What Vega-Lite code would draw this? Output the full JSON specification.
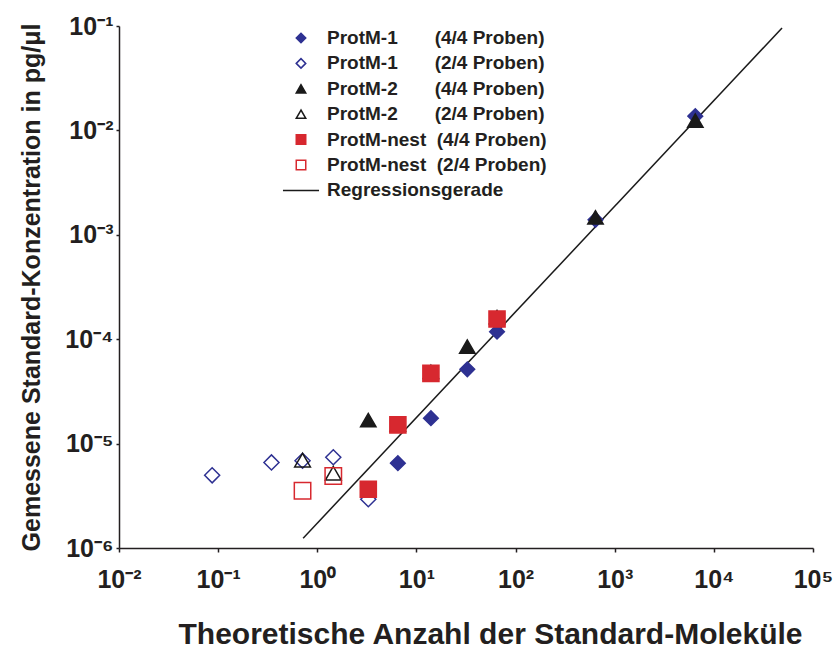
{
  "$schema": "https://vega.github.io/schema/vega-lite/v6.json",
  "width": 694,
  "height": 522,
  "autosize": {"type": "none"},
  "padding": {"left": 119, "top": 26, "right": 21, "bottom": 107},
  "background": "white",
  "config": {
    "view": {"stroke": null},
    "font": "Liberation Sans",
    "axis": {
      "grid": false,
      "domainColor": "#231f20",
      "domainWidth": 1.5,
      "tickColor": "#231f20",
      "tickWidth": 1.5,
      "labelFont": "Liberation Sans",
      "labelFontWeight": "bold",
      "labelFontSize": 25,
      "labelColor": "#231f20",
      "labelFlush": false,
      "labelOverlap": false,
      "titleFont": "Liberation Sans",
      "titleFontWeight": "bold",
      "titleColor": "#231f20"
    }
  },
  "datasets": {
    "points": [
      {"x": 6.5, "y": 6.5e-6, "series": "ProtM-1 (4/4 Proben)"},
      {"x": 14, "y": 1.75e-5, "series": "ProtM-1 (4/4 Proben)"},
      {"x": 32.6, "y": 5.15e-5, "series": "ProtM-1 (4/4 Proben)"},
      {"x": 65, "y": 1.18e-4, "series": "ProtM-1 (4/4 Proben)"},
      {"x": 640, "y": 1.39e-3, "series": "ProtM-1 (4/4 Proben)"},
      {"x": 6500, "y": 1.37e-2, "series": "ProtM-1 (4/4 Proben)"},
      {"x": 0.087, "y": 4.97e-6, "series": "ProtM-1 (2/4 Proben)"},
      {"x": 0.345, "y": 6.6e-6, "series": "ProtM-1 (2/4 Proben)"},
      {"x": 0.71, "y": 6.85e-6, "series": "ProtM-1 (2/4 Proben)"},
      {"x": 1.45, "y": 7.4e-6, "series": "ProtM-1 (2/4 Proben)"},
      {"x": 3.27, "y": 2.93e-6, "series": "ProtM-1 (2/4 Proben)"},
      {"x": 3.27, "y": 1.68e-5, "series": "ProtM-2 (4/4 Proben)"},
      {"x": 6.5, "y": 1.53e-5, "series": "ProtM-2 (4/4 Proben)"},
      {"x": 14, "y": 4.86e-5, "series": "ProtM-2 (4/4 Proben)"},
      {"x": 32.6, "y": 8.5e-5, "series": "ProtM-2 (4/4 Proben)"},
      {"x": 65, "y": 1.63e-4, "series": "ProtM-2 (4/4 Proben)"},
      {"x": 640, "y": 1.47e-3, "series": "ProtM-2 (4/4 Proben)"},
      {"x": 6500, "y": 1.24e-2, "series": "ProtM-2 (4/4 Proben)"},
      {"x": 0.71, "y": 6.95e-6, "series": "ProtM-2 (2/4 Proben)"},
      {"x": 1.45, "y": 5.2e-6, "series": "ProtM-2 (2/4 Proben)"},
      {"x": 3.27, "y": 3.65e-6, "series": "ProtM-nest (4/4 Proben)"},
      {"x": 6.5, "y": 1.51e-5, "series": "ProtM-nest (4/4 Proben)"},
      {"x": 14, "y": 4.71e-5, "series": "ProtM-nest (4/4 Proben)"},
      {"x": 65, "y": 1.56e-4, "series": "ProtM-nest (4/4 Proben)"},
      {"x": 0.71, "y": 3.54e-6, "series": "ProtM-nest (2/4 Proben)"},
      {"x": 1.45, "y": 4.9e-6, "series": "ProtM-nest (2/4 Proben)"}
    ],
    "regression": [
      {"x": 0.72, "y": 1.24e-6},
      {"x": 48700, "y": 0.0957}
    ]
  },
  "layer": [
    {
      "data": {"name": "regression"},
      "mark": {"type": "line", "color": "#1a1a1a", "strokeWidth": 1.5},
      "encoding": {
        "x": {
          "field": "x", "type": "quantitative",
          "scale": {"type": "log", "domain": [0.01, 100000], "nice": false},
          "axis": {
            "values": [0.01, 0.1, 1, 10, 100, 1000, 10000, 100000],
            "labelExpr": "'10' + ['⁻⁶','⁻⁵','⁻⁴','⁻³','⁻²','⁻¹','⁰','¹','²','³','⁴','⁵'][round(log(datum.value)/LN10)+6]",
            "title": "Theoretische Anzahl der Standard-Moleküle",
            "titleFontSize": 30,
            "titlePadding": 27,
            "titleX": 371,
            "tickSize": 4,
            "labelPadding": 15
          }
        },
        "y": {
          "field": "y", "type": "quantitative",
          "scale": {"type": "log", "domain": [0.000001, 0.1], "nice": false},
          "axis": {
            "values": [0.000001, 0.00001, 0.0001, 0.001, 0.01, 0.1],
            "labelExpr": "'10' + ['⁻⁶','⁻⁵','⁻⁴','⁻³','⁻²','⁻¹','⁰','¹','²','³','⁴','⁵'][round(log(datum.value)/LN10)+6]",
            "title": "Gemessene Standard-Konzentration in pg/μl",
            "titleFontSize": 25,
            "titlePadding": 20,
            "tickSize": 3,
            "labelPadding": 3
          }
        }
      }
    },
    {
      "data": {"name": "points"},
      "mark": {"type": "point", "opacity": 1, "strokeWidth": 1.5},
      "encoding": {
        "x": {"field": "x", "type": "quantitative"},
        "y": {"field": "y", "type": "quantitative"},
        "fill": {
          "field": "series", "type": "nominal",
          "scale": {
            "domain": ["ProtM-1 (4/4 Proben)", "ProtM-1 (2/4 Proben)", "ProtM-2 (4/4 Proben)", "ProtM-2 (2/4 Proben)", "ProtM-nest (4/4 Proben)", "ProtM-nest (2/4 Proben)", "Regressionsgerade"],
            "range": ["#2e3192", "transparent", "#1a1a1a", "transparent", "#d7282f", "transparent", "transparent"]
          },
          "legend": {
            "title": null, "orient": "none", "legendX": 172.5, "legendY": 2.5, "padding": 0,
            "symbolSize": 90, "symbolStrokeWidth": 1.5, "labelFont": "Liberation Sans", "labelFontSize": 19, "labelFontWeight": "bold", "labelColor": "#231f20", "labelLimit": 400, "rowPadding": 5.4, "labelOffset": 16.5,
            "labelExpr": "datum.label == 'Regressionsgerade' ? datum.label : (indexof(datum.label,'nest') >= 0 ? replace(datum.label,' ','\u00a0\u00a0') : replace(datum.label,' ','\u00a0\u00a0\u00a0\u00a0\u00a0\u00a0\u00a0'))"
          }
        },
        "stroke": {
          "field": "series", "type": "nominal",
          "scale": {
            "domain": ["ProtM-1 (4/4 Proben)", "ProtM-1 (2/4 Proben)", "ProtM-2 (4/4 Proben)", "ProtM-2 (2/4 Proben)", "ProtM-nest (4/4 Proben)", "ProtM-nest (2/4 Proben)", "Regressionsgerade"],
            "range": ["#2e3192", "#2e3192", "#1a1a1a", "#1a1a1a", "#d7282f", "#d7282f", "#1a1a1a"]
          },
          "legend": {
            "title": null, "orient": "none", "legendX": 172.5, "legendY": 2.5, "padding": 0,
            "symbolSize": 90, "symbolStrokeWidth": 1.5, "labelFont": "Liberation Sans", "labelFontSize": 19, "labelFontWeight": "bold", "labelColor": "#231f20", "labelLimit": 400, "rowPadding": 5.4, "labelOffset": 16.5,
            "labelExpr": "datum.label == 'Regressionsgerade' ? datum.label : (indexof(datum.label,'nest') >= 0 ? replace(datum.label,' ','\u00a0\u00a0') : replace(datum.label,' ','\u00a0\u00a0\u00a0\u00a0\u00a0\u00a0\u00a0'))"
          }
        },
        "shape": {
          "field": "series", "type": "nominal",
          "scale": {
            "domain": ["ProtM-1 (4/4 Proben)", "ProtM-1 (2/4 Proben)", "ProtM-2 (4/4 Proben)", "ProtM-2 (2/4 Proben)", "ProtM-nest (4/4 Proben)", "ProtM-nest (2/4 Proben)", "Regressionsgerade"],
            "range": ["diamond", "diamond", "triangle-up", "triangle-up", "square", "square", "M-3.8,0L3.8,0"]
          },
          "legend": {
            "title": null, "orient": "none", "legendX": 172.5, "legendY": 2.5, "padding": 0,
            "symbolSize": 90, "symbolStrokeWidth": 1.5, "labelFont": "Liberation Sans", "labelFontSize": 19, "labelFontWeight": "bold", "labelColor": "#231f20", "labelLimit": 400, "rowPadding": 5.4, "labelOffset": 16.5,
            "labelExpr": "datum.label == 'Regressionsgerade' ? datum.label : (indexof(datum.label,'nest') >= 0 ? replace(datum.label,' ','\u00a0\u00a0') : replace(datum.label,' ','\u00a0\u00a0\u00a0\u00a0\u00a0\u00a0\u00a0'))"
          }
        },
        "size": {
          "field": "series", "type": "ordinal",
          "scale": {
            "domain": ["ProtM-1 (4/4 Proben)", "ProtM-1 (2/4 Proben)", "ProtM-2 (4/4 Proben)", "ProtM-2 (2/4 Proben)", "ProtM-nest (4/4 Proben)", "ProtM-nest (2/4 Proben)"],
            "range": [215, 270, 135, 135, 150, 125]
          },
          "legend": null
        }
      }
    }
  ]
}
